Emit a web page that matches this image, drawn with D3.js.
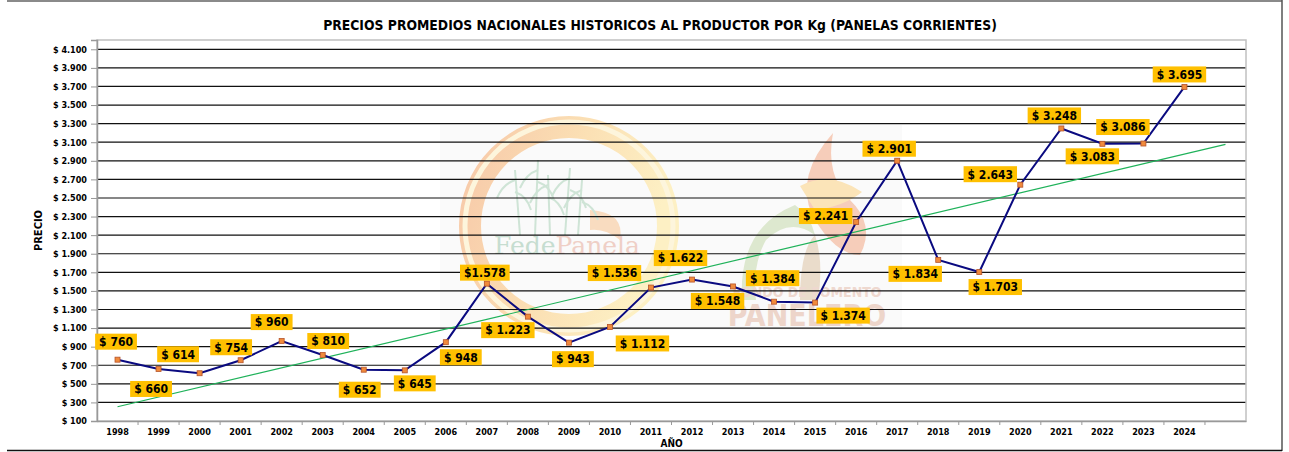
<!DOCTYPE html>
<html>
<head>
<meta charset="utf-8">
<script src="https://cdn.jsdelivr.net/npm/d3@7"></script>
<style>
  html, body { margin: 0; padding: 0; background: #fff; }
  svg { display: block; font-family: "DejaVu Sans Condensed", "DejaVu Sans", sans-serif; }
</style>
</head>
<body>
<svg id="chart" width="1289" height="452"></svg>
<script>
// years on the category axis (one empty slot at the end, as in the original)
var years = [1998, 1999, 2000, 2001, 2002, 2003, 2004, 2005, 2006, 2007, 2008, 2009, 2010,
  2011, 2012, 2013, 2014, 2015, 2016, 2017, 2018, 2019, 2020, 2021, 2022, 2023, 2024];
// average national producer price per kg (pesos)
var prices = [760, 660, 614, 754, 960, 810, 652, 645, 948, 1578, 1223, 943, 1112,
  1536, 1622, 1548, 1384, 1374, 2241, 2901, 1834, 1703, 2643, 3248, 3083, 3086, 3695];
// y tick values
var yTicks = d3.range(100, 4101, 200);

// where each data label sits relative to its point (layout only)
var labelOffsets = [[-1.5, -18], [-7.5, 20], [-21.5, -19], [-9.5, -13], [-10, -19], [5.5, -14],
  [-4, 20], [10, 13], [15, 15], [-2, -11], [-20, 13.5], [4, 16.5], [32.5, 16.5], [-36.5, -14.5],
  [-11.5, -21.5], [-15.5, 14.5], [-1.5, -23.5], [28, 13], [-30.5, -6], [-8, -12], [-23, 14],
  [16, 15], [-30, -10.5], [-7, -13], [-10, 12.5], [-20.5, -16.5], [-5, -12.5]];

var svg = d3.select('#chart');
var pL = 97, pR = 1246, pT = 40, pB = 421;
var nSlots = years.length + 1;

var x = d3.scaleBand().domain(d3.range(nSlots)).range([pL, pR]).padding(0);
var y = d3.scaleLinear().domain([100, 4200]).range([pB, pT]);
var cx = function (i) { return x(i) + x.bandwidth() / 2; };

var fmt = function (v) { return d3.format(',')(v).replace(/,/g, '.'); };

// outer frame (left side cropped off in the original)
svg.append('line').attr('x1', 7).attr('x2', 1282).attr('y1', 1).attr('y2', 1)
  .attr('stroke', '#8a8a8a').attr('stroke-width', 2);
svg.append('line').attr('x1', 1282).attr('x2', 1282).attr('y1', 0).attr('y2', 451)
  .attr('stroke', '#555').attr('stroke-width', 1.5);
svg.append('line').attr('x1', 7).attr('x2', 1282).attr('y1', 450.5).attr('y2', 450.5)
  .attr('stroke', '#111').attr('stroke-width', 1.5);

// title
svg.append('text').attr('x', 660).attr('y', 30).attr('text-anchor', 'middle')
  .attr('font-size', 13.8).attr('font-weight', 'bold').attr('fill', '#000')
  .text('PRECIOS PROMEDIOS NACIONALES HISTORICOS AL PRODUCTOR POR Kg (PANELAS CORRIENTES)');

// watermark logos
var wm = svg.append('g').attr('class', 'watermark');
var defs = svg.append('defs');
var grad = defs.append('linearGradient').attr('id', 'ringGrad')
  .attr('x1', '0%').attr('x2', '100%').attr('y1', '0%').attr('y2', '30%');
grad.append('stop').attr('offset', '0%').attr('stop-color', '#f7c9a9');
grad.append('stop').attr('offset', '55%').attr('stop-color', '#fbe0b4');
grad.append('stop').attr('offset', '100%').attr('stop-color', '#fdf0c4');
wm.append('rect').attr('x', 440).attr('y', 125).attr('width', 462).attr('height', 205)
  .attr('fill', '#fafafa');
wm.append('circle').attr('cx', 569).attr('cy', 226).attr('r', 99)
  .attr('fill', 'none').attr('stroke', 'url(#ringGrad)').attr('stroke-width', 22);
wm.append('circle').attr('cx', 569).attr('cy', 226).attr('r', 104)
  .attr('fill', 'none').attr('stroke', '#fdf5dc').attr('stroke-width', 5);
wm.append('path').attr('d', 'M590,210 Q625,212 620,240 Q605,228 590,230 Z')
  .attr('fill', '#f9dcc0');
// cane stalks
var cane = wm.append('g').attr('stroke', '#cfe4d6').attr('fill', 'none').attr('stroke-width', 2);
[[520, 235, 515, 170], [535, 235, 538, 160], [550, 235, 548, 175], [565, 235, 570, 168], [578, 235, 582, 180]]
  .forEach(function (s) {
    cane.append('line').attr('x1', s[0]).attr('y1', s[1]).attr('x2', s[2]).attr('y2', s[3]);
    cane.append('path').attr('d', 'M' + s[2] + ',' + (s[3] + 10) + ' q-12,4 -18,18');
    cane.append('path').attr('d', 'M' + s[2] + ',' + (s[3] + 22) + ' q12,4 16,18');
  });
var fede = wm.append('text').attr('x', 567).attr('y', 254).attr('text-anchor', 'middle')
  .attr('font-family', '"DejaVu Serif", "Liberation Serif", serif').attr('font-size', 25);
fede.append('tspan').attr('fill', '#c6ddd0').text('Fede');
fede.append('tspan').attr('fill', '#efcfc6').text('Panela');

// second logo: leaf, stem and flame
wm.append('path').attr('d', 'M742,300 Q738,228 795,205 Q810,215 815,235 Q790,217 766,240 Q752,265 756,300 Z')
  .attr('fill', '#dde8cf');
wm.append('path').attr('d', 'M800,300 Q800,250 815,235 Q824,262 818,300 Z').attr('fill', '#eadccb');
wm.append('path').attr('d', 'M833,133 Q795,175 812,215 Q835,255 860,255 Q876,225 850,200 Q825,175 833,133 Z')
  .attr('fill', '#f6cdba');
wm.append('path').attr('d', 'M800,186 Q830,170 862,192 Q845,206 815,210 Z').attr('fill', '#fbe4b8');
wm.append('text').attr('x', 807).attr('y', 297).attr('text-anchor', 'middle')
  .attr('font-size', 14).attr('font-weight', 'bold').attr('fill', '#eed8cf').text('FONDO DE FOMENTO');
wm.append('text').attr('x', 807).attr('y', 326).attr('text-anchor', 'middle')
  .attr('font-size', 30).attr('font-weight', 'bold').attr('fill', '#edd5ca').text('PANELERO');

// gridlines
svg.append('g').selectAll('line').data(yTicks.slice(1)).enter().append('line')
  .attr('x1', pL).attr('x2', pR)
  .attr('y1', function (d) { return y(d); }).attr('y2', function (d) { return y(d); })
  .attr('stroke', '#111').attr('stroke-width', 1.2);

// plot border
svg.append('rect').attr('x', pL).attr('y', pT).attr('width', pR - pL).attr('height', pB - pT)
  .attr('fill', 'none').attr('stroke', '#c0c0c0').attr('stroke-width', 1.5);

// y axis
var yAxis = d3.axisLeft(y).tickValues(yTicks).tickSize(6).tickPadding(4)
  .tickFormat(function (d) { return '$ ' + fmt(d); });
var gy = svg.append('g').attr('transform', 'translate(' + pL + ',0)').call(yAxis);
gy.select('.domain').attr('stroke', '#999').attr('stroke-width', 1.5);
gy.selectAll('.tick line').attr('stroke', '#999');
gy.selectAll('.tick text').attr('font-size', 9).attr('font-weight', 'bold').attr('fill', '#000')
  .attr('font-family', '"DejaVu Sans Condensed", "DejaVu Sans", sans-serif');

// x axis
var xAxis = d3.axisBottom(x).tickSize(0).tickPadding(8)
  .tickFormat(function (i) { return i < years.length ? years[i] : ''; });
var gx = svg.append('g').attr('transform', 'translate(0,' + pB + ')').call(xAxis);
gx.select('.domain').attr('stroke', '#999').attr('stroke-width', 1.5);
gx.selectAll('.tick text').attr('font-size', 9).attr('font-weight', 'bold').attr('fill', '#000')
  .attr('font-family', '"DejaVu Sans Condensed", "DejaVu Sans", sans-serif');
gx.selectAll('.between').data(d3.range(1, nSlots)).enter().append('line')
  .attr('class', 'between')
  .attr('x1', function (i) { return x(i); }).attr('x2', function (i) { return x(i); })
  .attr('y1', 0).attr('y2', 4).attr('stroke', '#999');

// axis titles
svg.append('text').attr('transform', 'translate(42,' + ((pT + pB) / 2) + ') rotate(-90)')
  .attr('text-anchor', 'middle').attr('font-size', 11).attr('font-weight', 'bold').text('PRECIO');
svg.append('text').attr('x', (pL + pR) / 2).attr('y', 447).attr('text-anchor', 'middle')
  .attr('font-size', 10).attr('font-weight', 'bold').text('AÑO');

// linear trend (least squares), extended one period forward
var idx = d3.range(prices.length);
var mx = d3.mean(idx), my = d3.mean(prices);
var slope = d3.sum(idx, function (i) { return (i - mx) * (prices[i] - my); }) /
  d3.sum(idx, function (i) { return (i - mx) * (i - mx); });
var icpt = my - slope * mx;
svg.append('line')
  .attr('x1', cx(0)).attr('y1', y(icpt))
  .attr('x2', cx(nSlots - 1)).attr('y2', y(icpt + slope * (nSlots - 1)))
  .attr('stroke', '#1fb25a').attr('stroke-width', 1.2);

// price line
var line = d3.line().x(function (d, i) { return cx(i); }).y(function (d) { return y(d); });
svg.append('path').datum(prices).attr('d', line)
  .attr('fill', 'none').attr('stroke', '#0a0a80').attr('stroke-width', 2);

svg.append('g').selectAll('rect').data(prices).enter().append('rect')
  .attr('x', function (d, i) { return cx(i) - 2.5; })
  .attr('y', function (d) { return y(d) - 2.5; })
  .attr('width', 5).attr('height', 5)
  .attr('fill', '#f08a3c').attr('stroke', '#b5532a').attr('stroke-width', 0.8);

// data labels
var labels = svg.append('g').selectAll('g').data(prices).enter().append('g')
  .attr('transform', function (d, i) {
    return 'translate(' + (cx(i) + labelOffsets[i][0]) + ',' + (y(d) + labelOffsets[i][1]) + ')';
  });
labels.append('text')
  .attr('text-anchor', 'middle').attr('dy', '0.36em')
  .attr('font-size', 12).attr('font-weight', 'bold').attr('fill', '#000')
  .text(function (d, i) { return (years[i] === 2007 ? '$' : '$ ') + fmt(d); });
labels.each(function () {
  var g = d3.select(this);
  var w = g.select('text').node().getComputedTextLength();
  g.insert('rect', 'text').attr('x', -w / 2 - 4).attr('y', -8).attr('width', w + 8).attr('height', 16)
    .attr('fill', '#ffc000');
});
</script>
</body>
</html>
